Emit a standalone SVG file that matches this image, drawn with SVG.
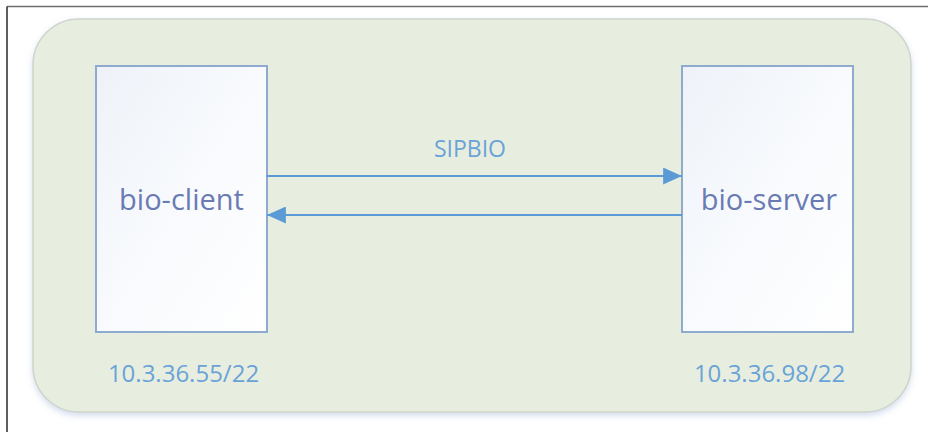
<svg xmlns="http://www.w3.org/2000/svg" width="928" height="432" viewBox="0 0 928 432">
  <defs>
    <linearGradient id="boxFill" x1="0" y1="0" x2="1" y2="1">
      <stop offset="0" stop-color="#eef2f8"/>
      <stop offset="0.5" stop-color="#f8fafd"/>
      <stop offset="1" stop-color="#ffffff"/>
    </linearGradient>
    <filter id="shadow" x="-5%" y="-5%" width="110%" height="115%">
      <feDropShadow dx="0" dy="3" stdDeviation="3" flood-color="#9fb4d8" flood-opacity="0.45"/>
    </filter>
    <marker id="arrow" viewBox="0 0 10 9" refX="10" refY="4.5" markerWidth="9.5" markerHeight="8.5" orient="auto" markerUnits="strokeWidth">
      <path d="M0,0 L10,4.5 L0,9 z" fill="#5b9bd5"/>
    </marker>
    <style>
      .node { fill: url(#boxFill); stroke: #8eabcf; stroke-width: 2; }
      .name { font-family: "Open Sans", "Noto Sans", sans-serif; font-size: 29px; fill: #6a7bb3; text-anchor: middle; }
      .ip { font-family: "Open Sans", "Noto Sans", sans-serif; font-size: 24px; fill: #6aa3d8; text-anchor: middle; }
      .lbl { font-family: "Open Sans", "Noto Sans", sans-serif; font-size: 23px; fill: #6aa3d8; text-anchor: middle; }
      .edge { stroke: #5b9bd5; stroke-width: 2; fill: none; marker-end: url(#arrow); }
    </style>
  </defs>
  <rect x="0" y="0" width="928" height="432" fill="#ffffff"/>
  <line x1="7" y1="6.5" x2="928" y2="6.5" stroke="#6e6e6e" stroke-width="1.5"/>
  <line x1="7" y1="6.5" x2="7" y2="432" stroke="#2a2a2a" stroke-width="1.5"/>
  <g id="container">
    <rect x="33" y="19" width="878" height="393" rx="46" ry="46" fill="#e8eedf" stroke="#cfd5cc" stroke-width="1.5" filter="url(#shadow)"/>
  </g>
  <g id="bio-client">
    <rect class="node" x="96" y="66" width="171" height="266"/>
    <text class="name" x="181.5" y="210">bio-client</text>
    <text class="ip" x="183.5" y="382">10.3.36.55/22</text>
  </g>
  <g id="bio-server">
    <rect class="node" x="682" y="66" width="171" height="266"/>
    <text class="name" x="769" y="210">bio-server</text>
    <text class="ip" x="769.5" y="382">10.3.36.98/22</text>
  </g>
  <g id="connectors">
    <line class="edge" x1="267" y1="176" x2="682" y2="176"/>
    <line class="edge" x1="682" y1="215" x2="267" y2="215"/>
    <text class="lbl" x="470" y="157">SIPBIO</text>
  </g>
</svg>
